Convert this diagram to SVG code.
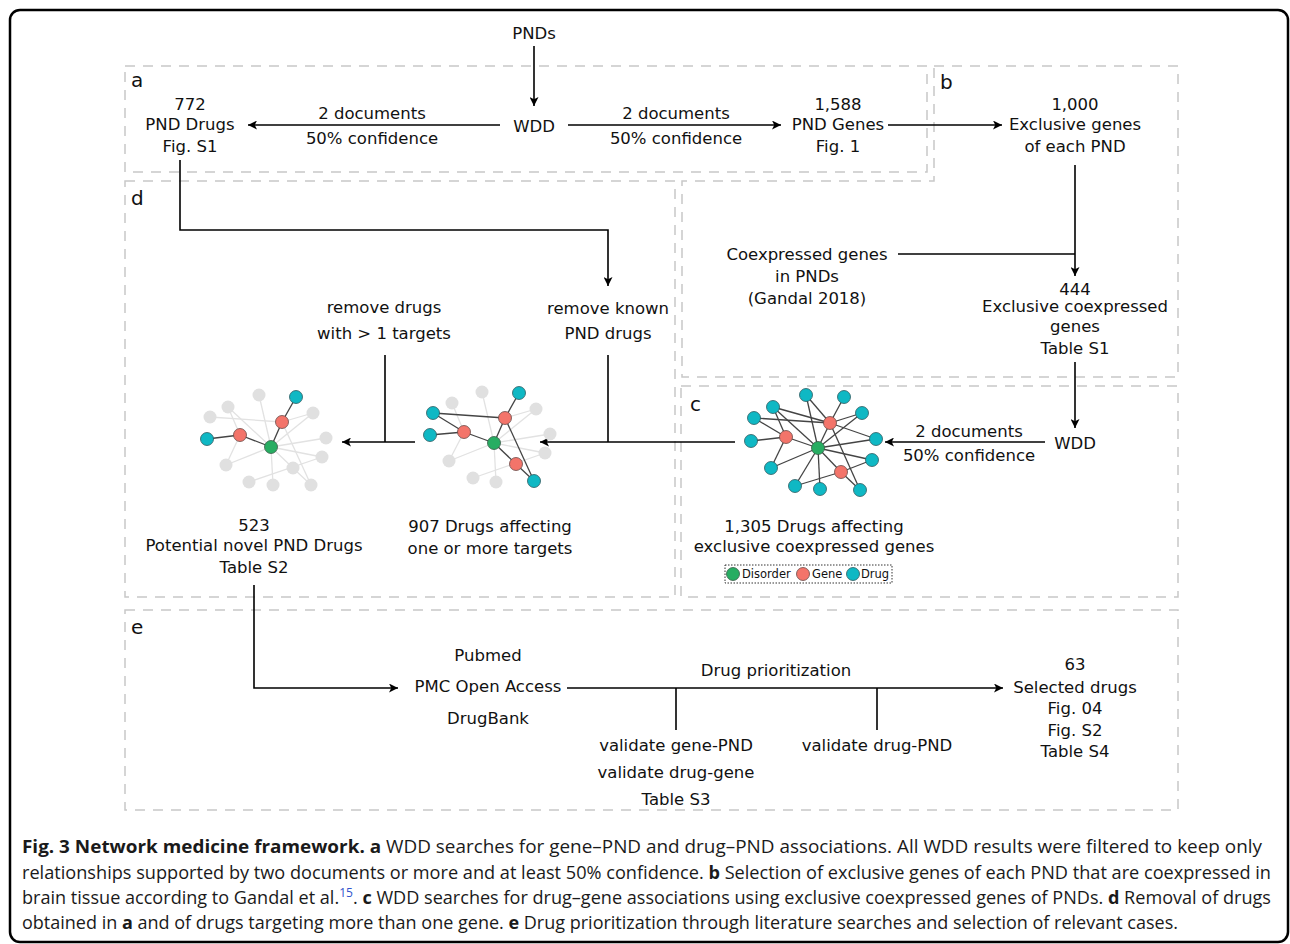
<svg xmlns="http://www.w3.org/2000/svg" width="1290" height="944" viewBox="0 0 1290 944">
<style>
.t{font-family:"DejaVu Sans",sans-serif;font-size:16.5px;fill:#111;text-anchor:middle}
.lab{font-family:"DejaVu Sans",sans-serif;font-size:20px;fill:#111}
.panel{fill:none;stroke:#c8c8c8;stroke-width:1.5;stroke-dasharray:10,8}
.ln{fill:none;stroke:#000;stroke-width:1.6}
.ar{fill:none;stroke:#000;stroke-width:1.6;marker-end:url(#ah)}
.eg{stroke:#e2e2e2;stroke-width:1.3}
.ed{stroke:#444;stroke-width:1.3}
.gy{fill:#e0e0e0}
.gn{fill:#27ad62;stroke:#3a5a48;stroke-width:0.8}
.rd{fill:#f3746a;stroke:#6a4a48;stroke-width:0.8}
.cy{fill:#0fb8c4;stroke:#2d5a60;stroke-width:0.8}
.cap{font-family:"Open Sans","Noto Sans",sans-serif;font-size:18px;fill:#1a1a1a}
.b{font-weight:bold}
.lg{font-family:"DejaVu Sans",sans-serif;font-size:11.5px;fill:#111}
</style>
<defs>
<marker id="ah" viewBox="0 0 10 10" refX="10" refY="5" markerWidth="11" markerHeight="9" markerUnits="userSpaceOnUse" orient="auto">
<path d="M0,0 L10,5 L0,10 L2.5,5 z" fill="#000"/>
</marker>
</defs>
<rect x="10" y="10" width="1278" height="932" rx="10" fill="#fff" stroke="#000" stroke-width="2.5"/>

<g id="panels">
<rect class="panel" x="125" y="66" width="802" height="106"/>
<path class="panel" d="M934,66 H1178 V377 H682 V181 H934 Z"/>
<rect class="panel" x="681" y="386" width="497" height="211"/>
<rect class="panel" x="125" y="181" width="550" height="416"/>
<rect class="panel" x="125" y="610" width="1053" height="200"/>
<text class="lab" x="131" y="87">a</text>
<text class="lab" x="940" y="89">b</text>
<text class="lab" x="690" y="411">c</text>
<text class="lab" x="131" y="205">d</text>
<text class="lab" x="131" y="634">e</text>
</g>

<g id="connectors">
<line class="ar" x1="534" y1="46" x2="534" y2="106"/>
<line class="ar" x1="500" y1="125" x2="248" y2="125"/>
<line class="ar" x1="568" y1="125" x2="781" y2="125"/>
<line class="ar" x1="888" y1="125" x2="1002" y2="125"/>
<line class="ar" x1="1075" y1="165" x2="1075" y2="276"/>
<line class="ln" x1="898" y1="254" x2="1075" y2="254"/>
<line class="ar" x1="1075" y1="362" x2="1075" y2="428"/>
<line class="ar" x1="1045" y1="442" x2="885" y2="442"/>
<line class="ar" x1="735" y1="442" x2="540" y2="442"/>
<line class="ln" x1="608" y1="355" x2="608" y2="442"/>
<path class="ar" d="M180,160 V230 H608 V286"/>
<line class="ar" x1="415" y1="442" x2="342" y2="442"/>
<line class="ln" x1="385" y1="355" x2="385" y2="442"/>
<path class="ar" d="M254,585 V688 H398"/>
<line class="ar" x1="567" y1="688" x2="1003" y2="688"/>
<line class="ln" x1="676" y1="688" x2="676" y2="730"/>
<line class="ln" x1="877" y1="688" x2="877" y2="730"/>
</g>

<g id="n-pnds"><text class="t" x="534" y="39">PNDs</text></g>
<g id="n-wdd1"><text class="t" x="534" y="132">WDD</text></g>
<g id="n-lbl-left"><text class="t" x="372" y="119">2 documents</text><text class="t" x="372" y="144">50% confidence</text></g>
<g id="n-lbl-right"><text class="t" x="676" y="119">2 documents</text><text class="t" x="676" y="144">50% confidence</text></g>
<g id="n-772"><text class="t" x="190" y="110">772</text><text class="t" x="190" y="130">PND Drugs</text><text class="t" x="190" y="152">Fig. S1</text></g>
<g id="n-1588"><text class="t" x="838" y="110">1,588</text><text class="t" x="838" y="130">PND Genes</text><text class="t" x="838" y="152">Fig. 1</text></g>
<g id="n-1000"><text class="t" x="1075" y="110">1,000</text><text class="t" x="1075" y="130">Exclusive genes</text><text class="t" x="1075" y="152">of each PND</text></g>
<g id="n-coexp"><text class="t" x="807" y="260">Coexpressed genes</text><text class="t" x="807" y="282">in PNDs</text><text class="t" x="807" y="304">(Gandal 2018)</text></g>
<g id="n-444"><text class="t" x="1075" y="295">444</text><text class="t" x="1075" y="312">Exclusive coexpressed</text><text class="t" x="1075" y="332">genes</text><text class="t" x="1075" y="354">Table S1</text></g>
<g id="n-wdd2"><text class="t" x="1075" y="449">WDD</text></g>
<g id="n-lbl-c"><text class="t" x="969" y="437">2 documents</text><text class="t" x="969" y="461">50% confidence</text></g>
<g id="n-remove-known"><text class="t" x="608" y="314">remove known</text><text class="t" x="608" y="339">PND drugs</text></g>
<g id="n-remove-drugs"><text class="t" x="384" y="313">remove drugs</text><text class="t" x="384" y="339">with &gt; 1 targets</text></g>

<g id="n-net523">
<g class="eg">
<line x1="259" y1="395" x2="271" y2="447"/><line x1="228" y1="407" x2="240" y2="435"/><line x1="228" y1="407" x2="271" y2="447"/>
<line x1="210" y1="417" x2="282" y2="422"/><line x1="313" y1="413" x2="282" y2="422"/><line x1="326" y1="438" x2="271" y2="447"/>
<line x1="226" y1="465" x2="271" y2="447"/><line x1="322" y1="457" x2="271" y2="447"/><line x1="293" y1="468" x2="271" y2="447"/>
<line x1="249" y1="482" x2="322" y2="457"/><line x1="273" y1="485" x2="271" y2="447"/><line x1="311" y1="485" x2="282" y2="422"/>
<line x1="226" y1="465" x2="240" y2="435"/><line x1="293" y1="468" x2="311" y2="485"/><line x1="313" y1="413" x2="271" y2="447"/>
</g>
<g class="ed">
<line x1="296" y1="397" x2="282" y2="422"/><line x1="282" y1="422" x2="271" y2="447"/><line x1="271" y1="447" x2="240" y2="435"/><line x1="240" y1="435" x2="207" y2="439"/>
</g>
<g class="gy">
<circle cx="259" cy="395" r="6.5"/><circle cx="228" cy="407" r="6.5"/><circle cx="210" cy="417" r="6.5"/><circle cx="313" cy="413" r="6.5"/>
<circle cx="326" cy="438" r="6.5"/><circle cx="226" cy="465" r="6.5"/><circle cx="322" cy="457" r="6.5"/><circle cx="293" cy="468" r="6.5"/>
<circle cx="249" cy="482" r="6.5"/><circle cx="273" cy="485" r="6.5"/><circle cx="311" cy="485" r="6.5"/>
</g>
<circle class="cy" cx="296" cy="397" r="6.5"/><circle class="cy" cx="207" cy="439" r="6.5"/>
<circle class="rd" cx="282" cy="422" r="6.5"/><circle class="rd" cx="240" cy="435" r="6.5"/>
<circle class="gn" cx="271" cy="447" r="6.5"/>
</g>
<g id="n-523"><text class="t" x="254" y="531">523</text><text class="t" x="254" y="551">Potential novel PND Drugs</text><text class="t" x="254" y="573">Table S2</text></g>

<g id="n-net907">
<g class="eg">
<line x1="482" y1="392" x2="494" y2="443"/><line x1="452" y1="403" x2="464" y2="432"/><line x1="536" y1="409" x2="505" y2="418"/>
<line x1="550" y1="434" x2="494" y2="443"/><line x1="545" y1="453" x2="494" y2="443"/><line x1="449" y1="461" x2="494" y2="443"/>
<line x1="473" y1="478" x2="545" y2="453"/><line x1="496" y1="482" x2="494" y2="443"/><line x1="449" y1="461" x2="464" y2="432"/>
<line x1="536" y1="409" x2="494" y2="443"/>
</g>
<g class="ed">
<line x1="519" y1="393" x2="505" y2="418"/><line x1="433" y1="413" x2="505" y2="418"/><line x1="433" y1="413" x2="464" y2="432"/>
<line x1="430" y1="435" x2="464" y2="432"/><line x1="464" y1="432" x2="494" y2="443"/><line x1="505" y1="418" x2="494" y2="443"/>
<line x1="494" y1="443" x2="516" y2="464"/><line x1="516" y1="464" x2="534" y2="481"/><line x1="505" y1="418" x2="534" y2="481"/>
</g>
<g class="gy">
<circle cx="482" cy="392" r="6.5"/><circle cx="452" cy="403" r="6.5"/><circle cx="536" cy="409" r="6.5"/><circle cx="550" cy="434" r="6.5"/>
<circle cx="545" cy="453" r="6.5"/><circle cx="449" cy="461" r="6.5"/><circle cx="473" cy="478" r="6.5"/><circle cx="496" cy="482" r="6.5"/>
</g>
<circle class="cy" cx="519" cy="393" r="6.5"/><circle class="cy" cx="433" cy="413" r="6.5"/><circle class="cy" cx="430" cy="435" r="6.5"/><circle class="cy" cx="534" cy="481" r="6.5"/>
<circle class="rd" cx="505" cy="418" r="6.5"/><circle class="rd" cx="464" cy="432" r="6.5"/><circle class="rd" cx="516" cy="464" r="6.5"/>
<circle class="gn" cx="494" cy="443" r="6.5"/>
</g>
<g id="n-907"><text class="t" x="490" y="532">907 Drugs affecting</text><text class="t" x="490" y="554">one or more targets</text></g>

<g id="n-net1305">
<g class="ed">
<line x1="806" y1="395" x2="818" y2="448"/><line x1="806" y1="395" x2="830" y2="423"/><line x1="844" y1="397" x2="830" y2="423"/>
<line x1="773" y1="407" x2="830" y2="423"/><line x1="773" y1="407" x2="786" y2="437"/><line x1="773" y1="407" x2="818" y2="448"/>
<line x1="862" y1="413" x2="830" y2="423"/><line x1="862" y1="413" x2="818" y2="448"/><line x1="754" y1="418" x2="830" y2="423"/>
<line x1="754" y1="418" x2="786" y2="437"/><line x1="751" y1="441" x2="786" y2="437"/><line x1="876" y1="439" x2="818" y2="448"/>
<line x1="876" y1="439" x2="830" y2="423"/><line x1="872" y1="460" x2="818" y2="448"/><line x1="872" y1="460" x2="841" y2="472"/>
<line x1="771" y1="468" x2="818" y2="448"/><line x1="771" y1="468" x2="786" y2="437"/><line x1="795" y1="486" x2="818" y2="448"/>
<line x1="795" y1="486" x2="841" y2="472"/><line x1="820" y1="489" x2="818" y2="448"/><line x1="860" y1="490" x2="841" y2="472"/>
<line x1="860" y1="490" x2="830" y2="423"/><line x1="786" y1="437" x2="818" y2="448"/><line x1="830" y1="423" x2="818" y2="448"/>
<line x1="841" y1="472" x2="818" y2="448"/>
</g>
<circle class="cy" cx="806" cy="395" r="6.5"/><circle class="cy" cx="844" cy="397" r="6.5"/><circle class="cy" cx="773" cy="407" r="6.5"/>
<circle class="cy" cx="862" cy="413" r="6.5"/><circle class="cy" cx="754" cy="418" r="6.5"/><circle class="cy" cx="751" cy="441" r="6.5"/>
<circle class="cy" cx="876" cy="439" r="6.5"/><circle class="cy" cx="872" cy="460" r="6.5"/><circle class="cy" cx="771" cy="468" r="6.5"/>
<circle class="cy" cx="795" cy="486" r="6.5"/><circle class="cy" cx="820" cy="489" r="6.5"/><circle class="cy" cx="860" cy="490" r="6.5"/>
<circle class="rd" cx="830" cy="423" r="6.5"/><circle class="rd" cx="786" cy="437" r="6.5"/><circle class="rd" cx="841" cy="472" r="6.5"/>
<circle class="gn" cx="818" cy="448" r="6.5"/>
</g>
<g id="n-1305"><text class="t" x="814" y="532">1,305 Drugs affecting</text><text class="t" x="814" y="552">exclusive coexpressed genes</text></g>

<g id="legend">
<rect x="725" y="565" width="167" height="18" fill="none" stroke="#333" stroke-width="1" stroke-dasharray="1.5,1.5"/>
<circle class="gn" cx="733" cy="574" r="6.5"/><text class="lg" x="742" y="578">Disorder</text>
<circle class="rd" cx="803" cy="574" r="6.5"/><text class="lg" x="812" y="578">Gene</text>
<circle class="cy" cx="853" cy="574" r="6.5"/><text class="lg" x="861" y="578">Drug</text>
</g>

<g id="n-sources"><text class="t" x="488" y="661">Pubmed</text><text class="t" x="488" y="692">PMC Open Access</text><text class="t" x="488" y="724">DrugBank</text></g>
<g id="n-prior"><text class="t" x="776" y="676">Drug prioritization</text></g>
<g id="n-val1"><text class="t" x="676" y="751">validate gene-PND</text><text class="t" x="676" y="778">validate drug-gene</text><text class="t" x="676" y="805">Table S3</text></g>
<g id="n-val2"><text class="t" x="877" y="751">validate drug-PND</text></g>
<g id="n-63"><text class="t" x="1075" y="670">63</text><text class="t" x="1075" y="693">Selected drugs</text><text class="t" x="1075" y="714">Fig. 04</text><text class="t" x="1075" y="736">Fig. S2</text><text class="t" x="1075" y="757">Table S4</text></g>

<g id="caption">
<text class="cap" x="22" y="853" textLength="1240" lengthAdjust="spacingAndGlyphs"><tspan class="b">Fig. 3 Network medicine framework. a</tspan> WDD searches for gene–PND and drug–PND associations. All WDD results were filtered to keep only</text>
<text class="cap" x="22" y="879" textLength="1249" lengthAdjust="spacingAndGlyphs">relationships supported by two documents or more and at least 50% confidence. <tspan class="b">b</tspan> Selection of exclusive genes of each PND that are coexpressed in</text>
<text class="cap" x="22" y="904" textLength="1249" lengthAdjust="spacingAndGlyphs">brain tissue according to Gandal et al.<tspan dy="-7" font-size="12" fill="#3355cc">15</tspan><tspan dy="7">. </tspan><tspan class="b">c</tspan> WDD searches for drug–gene associations using exclusive coexpressed genes of PNDs. <tspan class="b">d</tspan> Removal of drugs</text>
<text class="cap" x="22" y="929" textLength="1156" lengthAdjust="spacingAndGlyphs">obtained in <tspan class="b">a</tspan> and of drugs targeting more than one gene. <tspan class="b">e</tspan> Drug prioritization through literature searches and selection of relevant cases.</text>
</g>
</svg>
